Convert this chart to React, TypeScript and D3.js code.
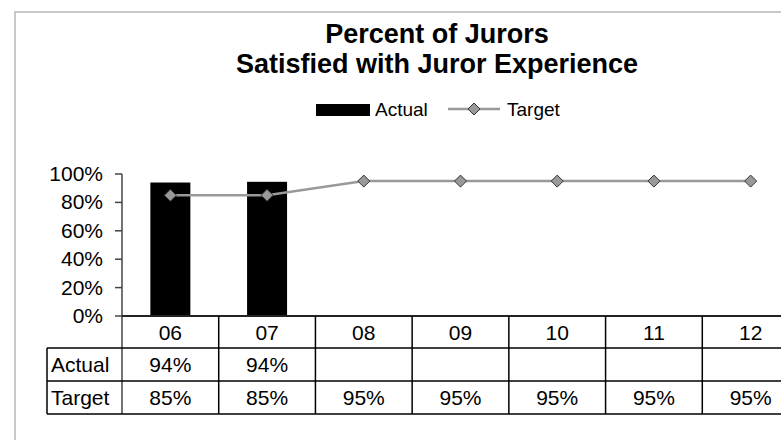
import React from "react";
import * as d3 from "d3";

const categories = ["06", "07", "08", "09", "10", "11", "12"];
const actualValues: (number | null)[] = [0.94, 0.945, null, null, null, null, null];
const actualLabels = ["94%", "94%", "", "", "", "", ""];
const targetValues = [0.85, 0.85, 0.95, 0.95, 0.95, 0.95, 0.95];
const targetLabels = ["85%", "85%", "95%", "95%", "95%", "95%", "95%"];
const yTicks = [0, 0.2, 0.4, 0.6, 0.8, 1.0];
const titleLines = ["Percent of Jurors", "Satisfied with Juror Experience"];

const W = 781;
const H = 440;
const FONT = "'Liberation Sans', Arial, sans-serif";

export default function App() {
  const plotLeft = 122;
  const plotRight = 799;
  const y0 = 316;
  const y1 = 174;
  const x = d3.scaleBand<string>().domain(categories).range([plotLeft, plotRight]).paddingInner(0).paddingOuter(0);
  const y = d3.scaleLinear().domain([0, 1]).range([y0, y1]);
  const bw = x.bandwidth();
  const barW = 40;
  const rowTops = [316, 348, 381, 414];
  const labelLeft = 47;

  const line = d3
    .line<number>()
    .x((_, i) => (x(categories[i]) as number) + bw / 2)
    .y((d) => y(d));

  const diamond = (cx: number, cy: number, r: number) =>
    `M${cx},${cy - r}L${cx + r},${cy}L${cx},${cy + r}L${cx - r},${cy}Z`;

  return (
    <svg
      width={W}
      height={H}
      style={{ position: "absolute", left: 0, top: 0, background: "#fff" }}
      fontFamily={FONT}
    >
      <rect x={0} y={0} width={W} height={H} fill="#fff" />
      {/* outer border */}
      <rect x={15} y={12} width={900} height={500} fill="none" stroke="#c8c8c8" strokeWidth={2} />

      {/* title */}
      <text x={437} y={43} textAnchor="middle" fontSize={27} fontWeight="bold">
        {titleLines[0]}
      </text>
      <text x={437} y={73} textAnchor="middle" fontSize={27} fontWeight="bold">
        {titleLines[1]}
      </text>

      {/* legend */}
      <rect x={316} y={104} width={54} height={12} fill="#000" />
      <text x={375} y={116} fontSize={19}>Actual</text>
      <line x1={448} x2={500} y1={109} y2={109} stroke="#999" strokeWidth={2.5} />
      <path d={diamond(474, 109, 6)} fill="#999" stroke="#333" strokeWidth={1} />
      <text x={507} y={116} fontSize={19}>Target</text>

      {/* bars */}
      {categories.map((c, i) => {
        const v = actualValues[i];
        if (v == null) return null;
        const cx = (x(c) as number) + bw / 2;
        return <rect key={c} x={cx - barW / 2} y={y(v)} width={barW} height={y0 - y(v)} fill="#000" />;
      })}

      {/* y axis */}
      <line x1={plotLeft} x2={plotLeft} y1={y1} y2={rowTops[3]} stroke="#444" strokeWidth={1.5} />
      {yTicks.map((t) => (
        <g key={t}>
          <line x1={115} x2={plotLeft} y1={y(t)} y2={y(t)} stroke="#444" strokeWidth={1.5} />
          <text x={103} y={y(t) + 7} textAnchor="end" fontSize={21}>
            {d3.format(".0%")(t)}
          </text>
        </g>
      ))}

      {/* target line */}
      <path d={line(targetValues) as string} fill="none" stroke="#999" strokeWidth={2.5} />
      {targetValues.map((v, i) => (
        <path
          key={i}
          d={diamond((x(categories[i]) as number) + bw / 2, y(v), 6)}
          fill="#999"
          stroke="#333"
          strokeWidth={1}
        />
      ))}

      {/* table */}
      <line x1={plotLeft} x2={W} y1={rowTops[0]} y2={rowTops[0]} stroke="#222" strokeWidth={2} />
      {rowTops.slice(1).map((r) => (
        <line key={r} x1={labelLeft} x2={W} y1={r} y2={r} stroke="#000" strokeWidth={1.5} />
      ))}
      <line x1={labelLeft} x2={labelLeft} y1={rowTops[1]} y2={rowTops[3]} stroke="#000" strokeWidth={1.5} />
      {categories.map((c, i) =>
        i === 0 ? null : (
          <line
            key={c}
            x1={x(c) as number}
            x2={x(c) as number}
            y1={rowTops[0]}
            y2={rowTops[3]}
            stroke="#000"
            strokeWidth={1.5}
          />
        )
      )}
      {categories.map((c) => (
        <text key={c} x={(x(c) as number) + bw / 2} y={340} textAnchor="middle" fontSize={21}>
          {c}
        </text>
      ))}
      <text x={51} y={372} fontSize={21}>Actual</text>
      <text x={51} y={405} fontSize={21}>Target</text>
      {categories.map((c, i) => (
        <text key={"a" + c} x={(x(c) as number) + bw / 2} y={372} textAnchor="middle" fontSize={21}>
          {actualLabels[i]}
        </text>
      ))}
      {categories.map((c, i) => (
        <text key={"t" + c} x={(x(c) as number) + bw / 2} y={405} textAnchor="middle" fontSize={21}>
          {targetLabels[i]}
        </text>
      ))}
    </svg>
  );
}
